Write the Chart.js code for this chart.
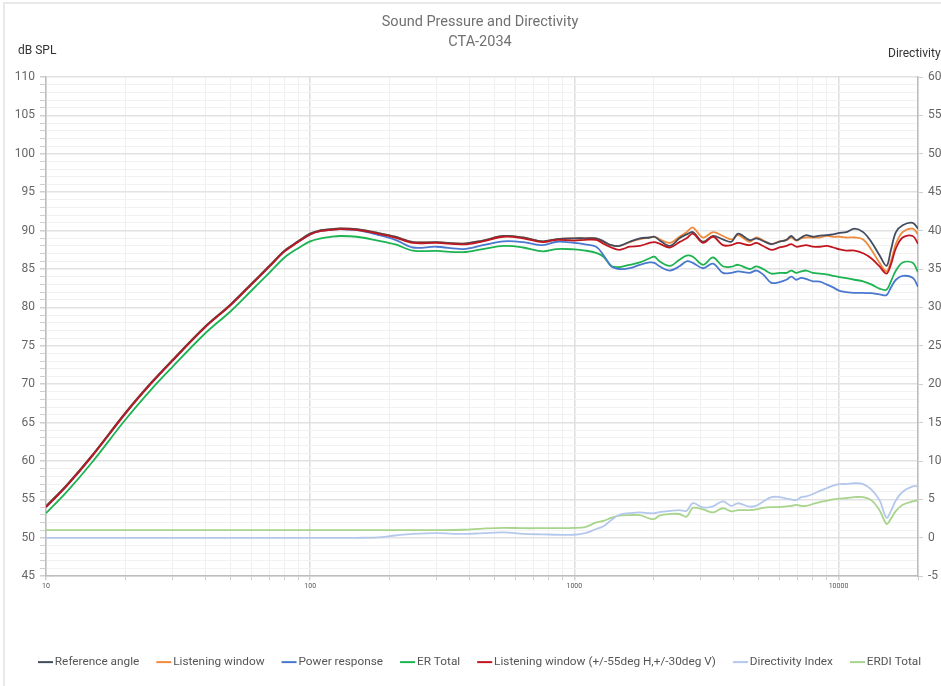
<!DOCTYPE html>
<html>
<head>
<meta charset="utf-8">
<script src="https://cdn.jsdelivr.net/npm/chart.js@4.4.1/dist/chart.umd.min.js"></script>
<style>
  html, body { margin: 0; padding: 0; background: #fff; overflow: hidden; }
  #frame { position: absolute; left: 3px; top: 2px; width: 1000px; height: 720px;
           border-top: 2px solid #e9e9e9; border-left: 2px solid #e9e9e9; }
  #wrap { position: absolute; left: 0; top: 0; width: 960px; height: 686px; }
</style>
</head>
<body>
<div id="frame"></div>
<div id="wrap"><canvas id="spinChart" width="960" height="686"></canvas></div>
<script>
// frequencies (Hz)
const freqs = [10, 12, 15, 20, 25, 30, 40, 50, 60, 70, 80, 90, 100, 110, 120, 130, 150, 180, 210, 245,
  300, 380, 450, 540, 640, 760, 860, 1000, 1100, 1210, 1290, 1380, 1480, 1620, 1770, 1930, 2010, 2100,
  2300, 2500, 2660, 2810, 3070, 3350, 3650, 3930, 4170, 4610, 4890, 5180, 5570, 5980, 6350, 6630, 6920,
  7230, 7550, 8000, 8500, 9000, 9540, 10100, 10700, 11500, 12400, 13300, 14300, 15200, 15800, 16500,
  17500, 19100, 20000];

// dB SPL
const referenceAngle = [54.1, 56.9, 60.8, 66.3, 70.2, 73.1, 77.5, 80.4, 83.1, 85.4, 87.4, 88.6, 89.6, 90.05, 90.2, 90.3, 90.2, 89.7, 89.2, 88.5,
  88.5, 88.3, 88.7, 89.3, 89.1, 88.6, 88.9, 89.0, 89.0, 89.0, 88.6, 88.1, 88.0, 88.55, 89.0, 89.1, 89.2, 88.75,
  88.0, 89.0, 89.5, 89.8, 88.55, 89.3, 88.85, 88.55, 89.6, 88.75, 89.0, 88.65, 88.25, 88.55, 88.8, 89.3, 88.75,
  89.1, 89.4, 89.2, 89.35, 89.4, 89.5, 89.7, 89.8, 90.25, 89.8, 88.55, 86.8, 85.4, 87.5, 89.8,
  90.7, 91.0, 90.25];
const listeningWindow = [54.1, 56.9, 60.8, 66.3, 70.2, 73.1, 77.5, 80.4, 83.1, 85.4, 87.4, 88.6, 89.6, 90.05, 90.2, 90.3, 90.2, 89.7, 89.2, 88.5,
  88.5, 88.3, 88.7, 89.3, 89.1, 88.6, 88.9, 89.0, 89.0, 89.0, 88.6, 88.1, 88.0, 88.5, 88.9, 89.1, 89.2, 88.9,
  88.4, 89.2, 89.8, 90.4, 89.1, 89.8, 89.3, 88.85, 89.4, 88.55, 89.1, 88.75, 88.25, 88.6, 88.75, 89.1, 88.7,
  89.0, 89.1, 89.1, 89.1, 89.3, 89.2, 89.2, 89.1, 89.1, 88.85, 87.55, 85.8, 84.7, 86.0, 88.3,
  89.8, 90.25, 89.5];
const powerResponse = [54.0, 56.8, 60.7, 66.2, 70.1, 73.0, 77.4, 80.3, 83.0, 85.3, 87.3, 88.5, 89.5, 89.95, 90.1, 90.2, 90.05, 89.45, 88.8, 87.8,
  87.9, 87.6, 88.1, 88.6, 88.5, 88.1, 88.55, 88.4, 88.2, 87.9, 86.8, 85.35, 85.0, 85.1, 85.55, 85.85, 85.8, 85.35,
  84.8, 85.35, 86.0, 85.8, 85.1, 85.7, 84.5, 84.5, 84.7, 84.5, 84.8, 84.3, 83.2, 83.3, 83.6, 84.0, 83.6,
  83.85, 83.7, 83.4, 83.35, 83.0, 82.6, 82.15, 82.0, 81.9, 81.9, 81.85, 81.7, 81.6, 82.6, 83.6,
  84.1, 83.85, 82.7];
const erTotal = [53.2, 56.0, 59.9, 65.4, 69.3, 72.2, 76.6, 79.5, 82.2, 84.5, 86.5, 87.7, 88.6, 89.0, 89.2, 89.3, 89.2, 88.7, 88.2, 87.4,
  87.35, 87.2, 87.6, 88.0, 87.8, 87.3, 87.6, 87.55, 87.4, 87.1, 86.6, 85.4, 85.25, 85.55, 85.85, 86.4, 86.6, 86.0,
  85.4, 86.2, 86.75, 86.6, 85.55, 86.5, 85.35, 85.3, 85.55, 85.0, 85.35, 85.0, 84.4, 84.5, 84.5, 84.8, 84.5,
  84.7, 84.8, 84.5, 84.4, 84.3, 84.1, 83.95, 83.8, 83.6, 83.4, 83.0, 82.45, 82.3, 83.4, 84.8,
  85.85, 85.8, 84.6];
const listeningWindowWide = [54.0, 56.8, 60.7, 66.2, 70.1, 73.0, 77.4, 80.3, 83.0, 85.3, 87.3, 88.5, 89.5, 89.95, 90.1, 90.2, 90.1, 89.6, 89.1, 88.4,
  88.4, 88.2, 88.6, 89.2, 89.0, 88.5, 88.8, 88.7, 88.8, 88.8, 88.3, 87.8, 87.5, 87.9, 88.0, 88.4, 88.5, 88.3,
  87.8, 88.5, 89.0, 89.6, 88.4, 89.2, 88.1, 88.1, 88.4, 88.1, 88.4, 88.0, 87.5, 87.8, 88.0, 88.25, 87.9,
  88.0, 88.1, 87.9, 87.9, 88.0, 87.8, 87.55, 87.4, 87.4, 87.05, 86.4, 85.35, 84.4, 85.6, 87.7,
  89.1, 89.3, 88.3];

// directivity (dB)
const directivityIndex = [0, 0, 0, 0, 0, 0, 0, 0, 0, 0, 0, 0, 0, 0, 0, 0, 0, 0.05, 0.3, 0.5,
  0.6, 0.5, 0.6, 0.7, 0.5, 0.45, 0.4, 0.4, 0.6, 1.15, 1.5, 2.3, 3.0, 3.2, 3.3, 3.2, 3.2, 3.35,
  3.5, 3.6, 3.5, 4.5, 3.95, 4.1, 4.75, 4.15, 4.5, 4.05, 4.2, 4.7, 5.3, 5.3, 5.1, 5.0, 4.9,
  5.3, 5.4, 5.7, 6.1, 6.45, 6.8, 7.0, 7.0, 7.1, 7.0, 6.3, 4.9, 2.6, 3.5, 4.9,
  6.0, 6.7, 6.7];
const erdiTotal = [1, 1, 1, 1, 1, 1, 1, 1, 1, 1, 1, 1, 1, 1, 1, 1, 1, 1, 1, 1,
  1, 1.05, 1.2, 1.3, 1.25, 1.25, 1.25, 1.28, 1.4, 2.0, 2.2, 2.6, 2.9, 2.95, 2.95, 2.5, 2.45, 2.9,
  3.1, 3.1, 2.75, 3.9, 3.7, 3.3, 3.85, 3.45, 3.6, 3.6, 3.7, 3.9, 4.0, 4.0, 4.1, 4.15, 4.3,
  4.15, 4.15, 4.4, 4.65, 4.8, 5.0, 5.1, 5.15, 5.3, 5.3, 4.9, 3.6, 1.8, 2.5, 3.5,
  4.3, 4.75, 4.9];

const xTicks = [];
for (let d = 10; d <= 10000; d *= 10) {
  for (let m = 1; m <= 9; m++) {
    if (d * m <= 20000) xTicks.push(d * m);
  }
}
xTicks.push(20000);

function pts(arr) {
  return freqs.map((f, i) => ({ x: f, y: arr[i] }));
}

// short dash used as legend marker, sitting right next to the label text
function dash(color) {
  const c = document.createElement('canvas');
  c.width = 30;
  c.height = 4;
  const g = c.getContext('2d');
  g.fillStyle = color;
  g.fillRect(9, 1, 15, 2);
  return c;
}

function line(label, arr, color, order, axis) {
  return {
    label: label,
    data: pts(arr),
    borderColor: color,
    backgroundColor: color,
    borderWidth: 1.8,
    pointRadius: 0,
    pointStyle: dash(color),
    tension: 0.35,
    fill: false,
    order: order,
    yAxisID: axis || 'y'
  };
}

const isDecade = v => Math.abs(Math.log10(v) - Math.round(Math.log10(v))) < 1e-9;

// axis titles drawn above the axes
const axisTitles = {
  id: 'axisTitles',
  afterDraw(chart) {
    const ctx = chart.ctx;
    ctx.save();
    ctx.font = '12px Roboto';
    ctx.fillStyle = '#333';
    ctx.textBaseline = 'middle';
    ctx.fillText('dB SPL', 18, 51);
    ctx.fillText('Directivity', 888, 54);
    ctx.restore();
  }
};

function createChart() {
  const ctx = document.getElementById('spinChart').getContext('2d');
  new Chart(ctx, {
    type: 'line',
    data: {
      datasets: [
        line('Reference angle', referenceAngle, '#434c5e', 1),
        line('Listening window', listeningWindow, '#f08a3c', 2),
        line('Power response', powerResponse, '#4a78cf', 3),
        line('ER Total', erTotal, '#1cb350', 4),
        line('Listening window (+/-55deg H,+/-30deg V)', listeningWindowWide, '#c0171f', 0),
        line('Directivity Index', directivityIndex, '#b4c8ec', 5, 'y2'),
        line('ERDI Total', erdiTotal, '#a8d48c', 6, 'y2')
      ]
    },
    options: {
      responsive: false,
      animation: false,
      layout: { padding: { left: 0, right: 0, top: 0, bottom: 8 } },
      plugins: {
        title: {
          display: true,
          text: ['Sound Pressure and Directivity', 'CTA-2034'],
          color: '#707070',
          font: { family: 'Roboto', size: 14.5, weight: 'normal', lineHeight: '20px' },
          padding: { top: 12, bottom: 25 }
        },
        legend: {
          position: 'bottom',
          labels: {
            usePointStyle: true,
            pointStyleWidth: 10,
            color: '#555',
            font: { family: 'Roboto', size: 11.8 },
            padding: 18,
            sort: (a, b) => a.datasetIndex - b.datasetIndex
          }
        },
        tooltip: { enabled: false }
      },
      scales: {
        x: {
          type: 'logarithmic',
          min: 10,
          max: 20000,
          afterBuildTicks: s => { s.ticks = xTicks.map(v => ({ value: v })); },
          afterFit: s => { s.height = 62; },
          ticks: {
            autoSkip: false,
            maxRotation: 0,
            color: '#555',
            font: { family: 'Roboto', size: 7 },
            padding: 2,
            callback: v => isDecade(v) ? String(v) : ''
          },
          grid: {
            color: c => isDecade(c.tick.value) ? '#dedede' : '#f0f0f0',
            lineWidth: c => isDecade(c.tick.value) ? 1.5 : 1,
            tickLength: 4,
            tickColor: '#cfcfcf'
          },
          border: { color: '#bdbdbd', width: 1.5 }
        },
        y: {
          position: 'left',
          min: 45,
          max: 110,
          afterFit: s => { s.width = 46; },
          ticks: {
            stepSize: 1,
            autoSkip: false,
            color: '#666',
            font: { family: 'Roboto', size: 12 },
            padding: 5,
            callback: v => v % 5 === 0 ? v : ''
          },
          grid: {
            color: c => c.tick.value % 5 === 0 ? '#e2e2e2' : '#f2f2f2',
            lineWidth: c => c.tick.value % 5 === 0 ? 1.5 : 1,
            tickLength: 6,
            tickColor: '#cfcfcf'
          },
          border: { color: '#bdbdbd', width: 1.5 }
        },
        y2: {
          position: 'right',
          min: -5,
          max: 60,
          afterFit: s => { s.width = 42; },
          ticks: {
            stepSize: 5,
            color: '#666',
            font: { family: 'Roboto', size: 12 },
            padding: 5
          },
          grid: { drawOnChartArea: false, tickLength: 5, tickColor: '#cfcfcf' },
          border: { color: '#bdbdbd', width: 1.5 }
        }
      }
    },
    plugins: [axisTitles]
  });
}

window.onload = createChart;
</script>
</body>
</html>
